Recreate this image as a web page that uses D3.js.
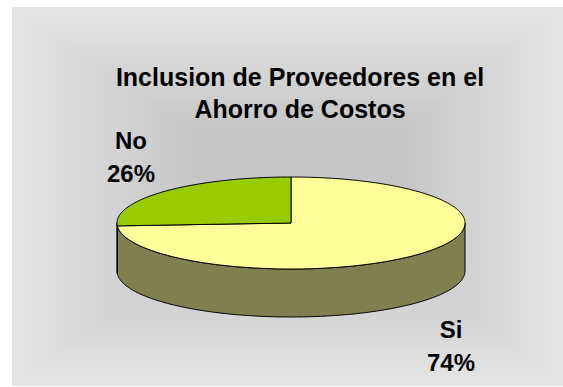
<!DOCTYPE html>
<html>
<head>
<meta charset="utf-8">
<script src="https://cdn.jsdelivr.net/npm/d3@7"></script>
<style>
  html, body { margin: 0; padding: 0; background: #ffffff; }
  svg { display: block; }
  text { font-family: "Liberation Sans", Arial, sans-serif; font-weight: bold; fill: #000; }
</style>
</head>
<body>
<svg id="chart" width="563" height="387"></svg>
<script>
// Survey answers and their shares (percent)
const categories = ["Si", "No"];
const values = [74, 26];
const titleLines = ["Inclusion de Proveedores en el", "Ahorro de Costos"];
const topColors = ["#FFFF99", "#99CC00"];
const sideColors = ["#7F7F4F", "#4D6600"];

const svg = d3.select("#chart");

// Chart area with a rectangular centre-out gray fill
const outer = { x0: 12, y0: 7, x1: 563, y1: 386 };
const inner = { x0: 192, y0: 128, x1: 404, y1: 255 };
const steps = 28;
const shade = d3.interpolateRgb("#e4e4e4", "#c6c6c6");
const bg = svg.append("g").attr("shape-rendering", "crispEdges");
d3.range(steps + 1).forEach(i => {
  const t = i / steps;
  const lerp = d3.interpolateNumber;
  const x0 = lerp(outer.x0, inner.x0)(t), y0 = lerp(outer.y0, inner.y0)(t);
  const x1 = lerp(outer.x1, inner.x1)(t), y1 = lerp(outer.y1, inner.y1)(t);
  bg.append("rect")
    .attr("x", x0)
    .attr("y", y0)
    .attr("width", x1 - x0)
    .attr("height", y1 - y0)
    .attr("fill", shade(t));
});

// Title
const title = svg.append("text")
  .attr("text-anchor", "middle")
  .attr("font-size", 25);
titleLines.forEach((line, i) => {
  title.append("tspan").attr("x", 300).attr("y", 86 + i * 32).text(line);
});

// 3D pie geometry
const cx = 291, cy = 223, rx = 174, ry = 46, depth = 48;
const pie = d3.pie().sort(null).startAngle(0).endAngle(2 * Math.PI);
const arcs = pie(values);

// angle measured clockwise from 12 o'clock
const px = a => cx + rx * Math.sin(a);
const py = a => cy - ry * Math.cos(a);

function arcPoints(a0, a1, dy) {
  const n = Math.max(2, Math.ceil(Math.abs(a1 - a0) / 0.02));
  return d3.range(n + 1).map(k => {
    const a = a0 + (a1 - a0) * k / n;
    return [px(a), py(a) + dy];
  });
}

function topPath(d) {
  const pts = [[cx, cy]].concat(arcPoints(d.startAngle, d.endAngle, 0));
  return d3.line()(pts) + "Z";
}

function sidePath(d) {
  // only the front half of the rim (from 3 to 9 o'clock) is visible
  const a0 = Math.max(d.startAngle, Math.PI / 2);
  const a1 = Math.min(d.endAngle, 3 * Math.PI / 2);
  if (a1 <= a0) return null;
  const topEdge = arcPoints(a0, a1, 0);
  const bottomEdge = arcPoints(a1, a0, depth);
  return d3.line()(topEdge.concat(bottomEdge)) + "Z";
}

const pieG = svg.append("g");

pieG.selectAll("path.side")
  .data(arcs.filter(d => sidePath(d)))
  .join("path")
  .attr("class", "side")
  .attr("d", sidePath)
  .attr("fill", d => sideColors[d.index])
  .attr("stroke", "#000")
  .attr("stroke-width", 1)
  .attr("stroke-linejoin", "round");

pieG.selectAll("path.top")
  .data(arcs)
  .join("path")
  .attr("class", "top")
  .attr("d", topPath)
  .attr("fill", d => topColors[d.index])
  .attr("stroke", "#000")
  .attr("stroke-width", 1)
  .attr("stroke-linejoin", "round");

// Category labels with percentages
const labelPos = [[451, 338], [131, 149]];
arcs.forEach((d, i) => {
  const t = svg.append("text")
    .attr("text-anchor", "middle")
    .attr("font-size", 24);
  t.append("tspan").attr("x", labelPos[i][0]).attr("y", labelPos[i][1]).text(categories[i]);
  t.append("tspan").attr("x", labelPos[i][0]).attr("y", labelPos[i][1] + 33)
    .text(d3.format(".0%")(values[i] / d3.sum(values)));
});
</script>
</body>
</html>
